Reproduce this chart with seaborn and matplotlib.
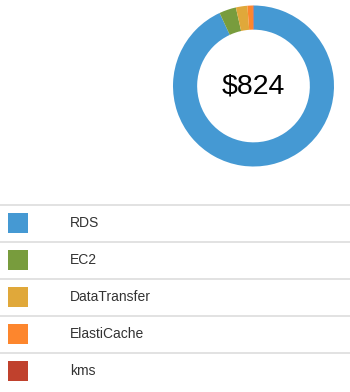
import matplotlib
matplotlib.use("Agg")
import matplotlib.pyplot as plt
import seaborn as sns

categories = ["RDS", "EC2", "DataTransfer", "ElastiCache", "kms"]
values = [767, 28, 19, 9, 1]
colors = ["#4599d3", "#789c3d", "#e0a83a", "#fd862d", "#c0412d"]
total_label = "$824"

sns.set_theme(style="white")
plt.rcParams["font.family"] = ["Liberation Sans", "DejaVu Sans"]

W, H = 350, 392
fig = plt.figure(figsize=(W / 100, H / 100), dpi=100)

# donut
cx, cy, r = 253.5, 86, 80.5
ax = fig.add_axes([(cx - r) / W, (H - cy - r) / H, 2 * r / W, 2 * r / H])
ax.pie(values, colors=colors, startangle=90, counterclock=False, radius=1,
       wedgeprops=dict(width=0.30, linewidth=0))
ax.text(0, -0.01, total_label, ha="center", va="center", fontsize=20.5, color="black")
ax.set_xlim(-1, 1)
ax.set_ylim(-1, 1)
ax.axis("off")

# legend table
lax = fig.add_axes([0, 0, 1, (H - 195) / H])
lax.set_xlim(0, W)
lax.set_ylim(H, 195)
lax.axis("off")
row_top = 204.5
row_h = 37
for i, (cat, col) in enumerate(zip(categories, colors)):
    y0 = row_top + i * row_h
    lax.plot([0, W], [y0, y0], color="#dddddd", lw=1.2, solid_capstyle="butt")
    yc = y0 + row_h / 2
    lax.scatter([18], [yc], marker="s", s=(20 * 0.72) ** 2, color=col, linewidths=0)
    lax.text(70, yc, cat, ha="left", va="center", fontsize=10, color="#333333")

fig.savefig("out.png", dpi=100)
